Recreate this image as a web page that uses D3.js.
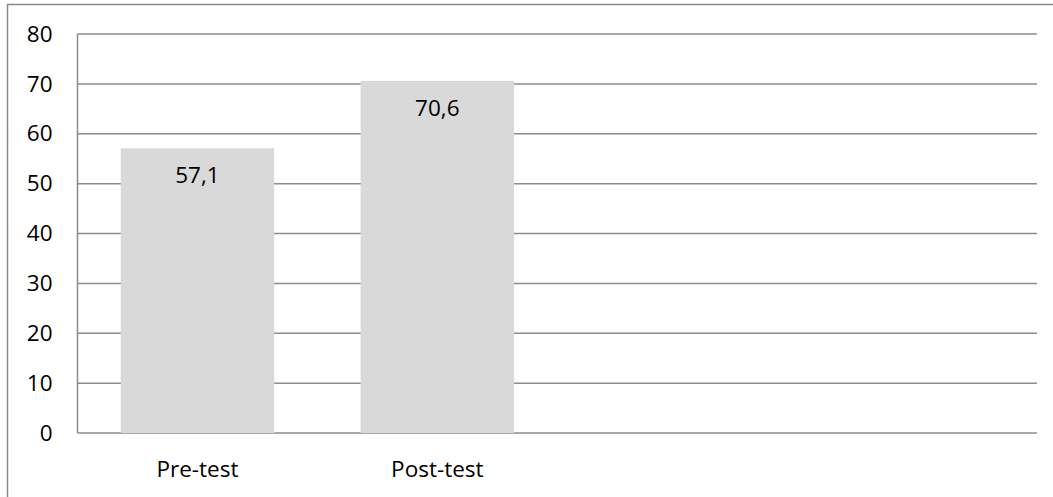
<!DOCTYPE html>
<html>
<head>
<meta charset="utf-8">
<script src="https://cdn.jsdelivr.net/npm/d3@7"></script>
<style>
  body { margin: 0; background: #fff; }
  text { font-family: "Open Sans", sans-serif; fill: #000; }
</style>
</head>
<body>
<svg id="chart"></svg>
<script>
// data
const categories = ["Pre-test", "Post-test"];
const values = [57.1, 70.6];
const valueLabels = ["57,1", "70,6"];
const yTicks = [0, 10, 20, 30, 40, 50, 60, 70, 80];
const slotCount = 4; // axis has room for four category slots, only two are used

const width = 1053, height = 497;
const margin = { left: 77.5, right: 16, top: 34, bottom: 64 };
const fontSize = 22.5;

const svg = d3.select('#chart')
    .attr("width", width)
    .attr("height", height);

// outer chart frame (runs off the right and bottom edges)
svg.append("rect")
    .attr("x", 7.5).attr("y", 4.5)
    .attr("width", width + 20).attr("height", height + 20)
    .attr("fill", "none")
    .attr("stroke", "#8a8a8a")
    .attr("stroke-width", 1.5);

const innerW = width - margin.left - margin.right;
const innerH = height - margin.top - margin.bottom;

const g = svg.append("g")
    .attr("transform", `translate(${margin.left},${margin.top})`);

const xScale = d3.scaleBand()
    .domain(d3.range(slotCount))
    .range([0, innerW])
    .paddingInner(0.36)
    .paddingOuter(0.18);

const yScale = d3.scaleLinear()
    .domain([0, 80])
    .range([innerH, 0]);

// gridlines
g.selectAll("line.grid")
  .data(yTicks)
  .enter()
  .append("line")
    .attr("class", "grid")
    .attr("x1", 0).attr("x2", innerW)
    .attr("y1", d => yScale(d)).attr("y2", d => yScale(d))
    .attr("stroke", "#8c8c8c")
    .attr("stroke-width", 1.5);

// bars
g.selectAll("rect.bar")
  .data(values)
  .enter()
  .append("rect")
    .attr("class", "bar")
    .attr("x", (d, i) => xScale(i))
    .attr("y", d => yScale(d))
    .attr("width", xScale.bandwidth())
    .attr("height", d => innerH - yScale(d))
    .attr("fill", "#d9d9d9");

// value labels inside the bar tops
g.selectAll("text.val")
  .data(values)
  .enter()
  .append("text")
    .attr("class", "val")
    .attr("x", (d, i) => xScale(i) + xScale.bandwidth() / 2)
    .attr("y", d => yScale(d) + 35)
    .attr("text-anchor", "middle")
    .attr("font-size", fontSize)
    .text((d, i) => valueLabels[i]);

// y axis line
g.append("line")
    .attr("x1", 0).attr("x2", 0)
    .attr("y1", yScale(80)).attr("y2", yScale(0))
    .attr("stroke", "#8c8c8c")
    .attr("stroke-width", 1.5);

// y tick labels
const yAxis = d3.axisLeft(yScale)
    .tickValues(yTicks)
    .tickSize(0)
    .tickPadding(25);

const yAxisG = g.append("g").call(yAxis);
yAxisG.select(".domain").remove();
yAxisG.selectAll("text")
    .attr("font-size", fontSize)
    .attr("font-family", "Open Sans, sans-serif");

// category labels
const xAxis = d3.axisBottom(xScale)
    .tickSize(0)
    .tickPadding(28)
    .tickFormat(i => categories[i] || "");

const xAxisG = g.append("g")
    .attr("transform", `translate(0,${innerH})`)
    .call(xAxis);
xAxisG.select(".domain").remove();
xAxisG.selectAll("text")
    .attr("font-size", fontSize)
    .attr("font-family", "Open Sans, sans-serif");
</script>
</body>
</html>
